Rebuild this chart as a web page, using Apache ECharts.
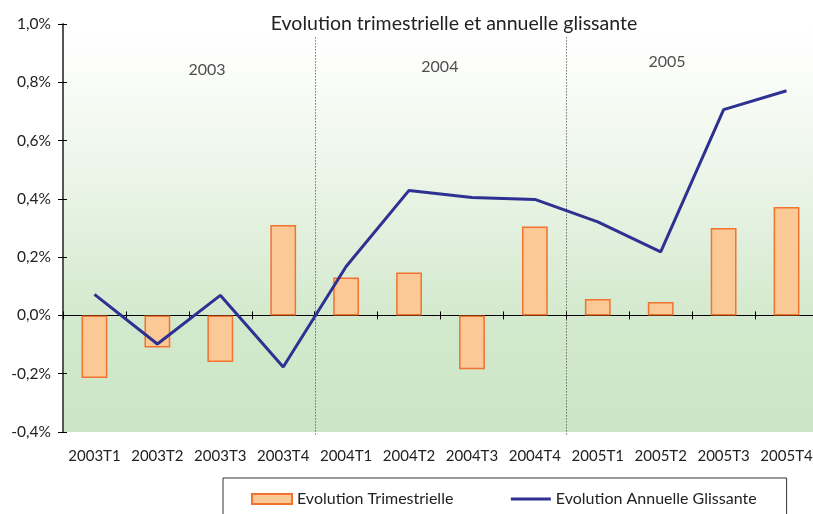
<!DOCTYPE html>
<html><head><meta charset="utf-8">
<script src="https://cdn.jsdelivr.net/npm/echarts@6/dist/echarts.min.js"></script>
<style>html,body{margin:0;padding:0;background:#fff}#c{width:813px;height:514px}</style>
</head><body><div id="c"></div>
<script>
var categories = ['2003T1','2003T2','2003T3','2003T4','2004T1','2004T2','2004T3','2004T4','2005T1','2005T2','2005T3','2005T4'];
var trimestrielle = [-0.215,-0.11,-0.16,0.31,0.13,0.147,-0.185,0.305,0.056,0.046,0.30,0.372];
var annuelle = [0.072,-0.098,0.069,-0.177,0.168,0.429,0.405,0.398,0.321,0.218,0.706,0.771];
var yearSeparators = [4, 8];
var yearLabels = [[2.29,0.844,'2003'],[5.99,0.854,'2004'],[9.6,0.871,'2005']];
var yMin = -0.4, yMax = 1.0, yStep = 0.2;
var FONT = 'Lato';

var chart = echarts.init(document.getElementById('c'), null, {renderer:'canvas'});
var fmt = function(v){ return v.toFixed(1).replace('.', ',') + '%'; };
chart.setOption({
  animation:false,
  textStyle:{fontFamily:FONT},
  title:{text:'Evolution trimestrielle et annuelle glissante', left:449, textAlign:'center', top:9,
    textStyle:{fontFamily:FONT, fontSize:19.5, fontWeight:'normal', color:'#222'}},
  legend:{left:223, top:478, padding:[13,30,30,28], borderColor:'#333', borderWidth:1,
    itemWidth:40, itemHeight:10, itemGap:56,
    textStyle:{fontFamily:FONT, fontSize:16, color:'#222'},
    data:[{name:'Evolution Trimestrielle', icon:'rect'},
          {name:'Evolution Annuelle Glissante', itemStyle:{opacity:0, color:'rgba(0,0,0,0)', borderColor:'rgba(0,0,0,0)'}, lineStyle:{width:3, color:'#2e3192'}}]},
  grid:{left:63, top:24, height:408, width:755, outerBoundsMode:'none', containLabel:false, show:true, borderWidth:0,
    backgroundColor:new echarts.graphic.LinearGradient(0,0,0,1,[
      {offset:0,color:'#ffffff'},{offset:0.12,color:'#fbfdfa'},{offset:0.45,color:'#e6f2e2'},{offset:0.72,color:'#d3e9cd'},{offset:1,color:'#cce5c5'}])},
  xAxis:[
    {type:'category', data:categories, axisLine:{onZero:true, lineStyle:{color:'#000', width:1}},
      axisTick:{show:true, length:4, lineStyle:{color:'#000'}},
      axisLabel:{margin:17, fontFamily:FONT, fontSize:15, color:'#222', interval:0}},
    {type:'category', data:categories, position:'bottom', axisLine:{show:false, onZero:true},
      axisTick:{show:true, inside:true, length:4, lineStyle:{color:'#000'}}, axisLabel:{show:false}},
    {type:'value', min:0, max:12, show:false}
  ],
  yAxis:[
    {type:'value', min:yMin, max:yMax, interval:yStep, splitLine:{show:false},
      axisLine:{show:true, lineStyle:{color:'#555', width:2}},
      axisTick:{show:true, length:5, lineStyle:{color:'#000'}},
      axisLabel:{formatter:fmt, margin:12, fontFamily:FONT, fontSize:15.5, color:'#222'}},
    {type:'value', min:yMin, max:yMax, interval:yStep, position:'left', splitLine:{show:false},
      axisLine:{show:false}, axisTick:{show:true, inside:true, length:4, lineStyle:{color:'#000'}},
      axisLabel:{show:false}}
  ],
  series:[
    {name:'Evolution Trimestrielle', type:'bar', data:trimestrielle, barWidth:'41%',
      itemStyle:{color:'#fbc996', borderColor:'#f2722e', borderWidth:1.5}},
    {name:'Evolution Annuelle Glissante', type:'line', data:annuelle, symbol:'none',
      lineStyle:{color:'#2e3192', width:3}, itemStyle:{color:'#2e3192'}, z:5},
    {type:'custom', xAxisIndex:2, yAxisIndex:0, data:yearSeparators.map(function(v){return [v];}), clip:false, silent:true,
      renderItem:function(params, api){
        var x = api.value(0);
        var t = api.coord([x, 0.954]);
        var b = api.coord([x, yMin]);
        var px = Math.round(t[0]) + 0.5;
        return {type:'line', shape:{x1:px, y1:t[1], x2:px, y2:b[1]+4},
          style:{stroke:'#333', lineWidth:1, lineDash:[1,2]}};
      }},
    {type:'scatter', xAxisIndex:2, yAxisIndex:0, data:yearLabels, symbolSize:1, silent:true,
      itemStyle:{color:'rgba(0,0,0,0)'},
      label:{show:true, position:'inside', formatter:function(p){return p.value[2];}, fontFamily:FONT, fontSize:16, color:'#222'}}
  ]
});
</script></body></html>
